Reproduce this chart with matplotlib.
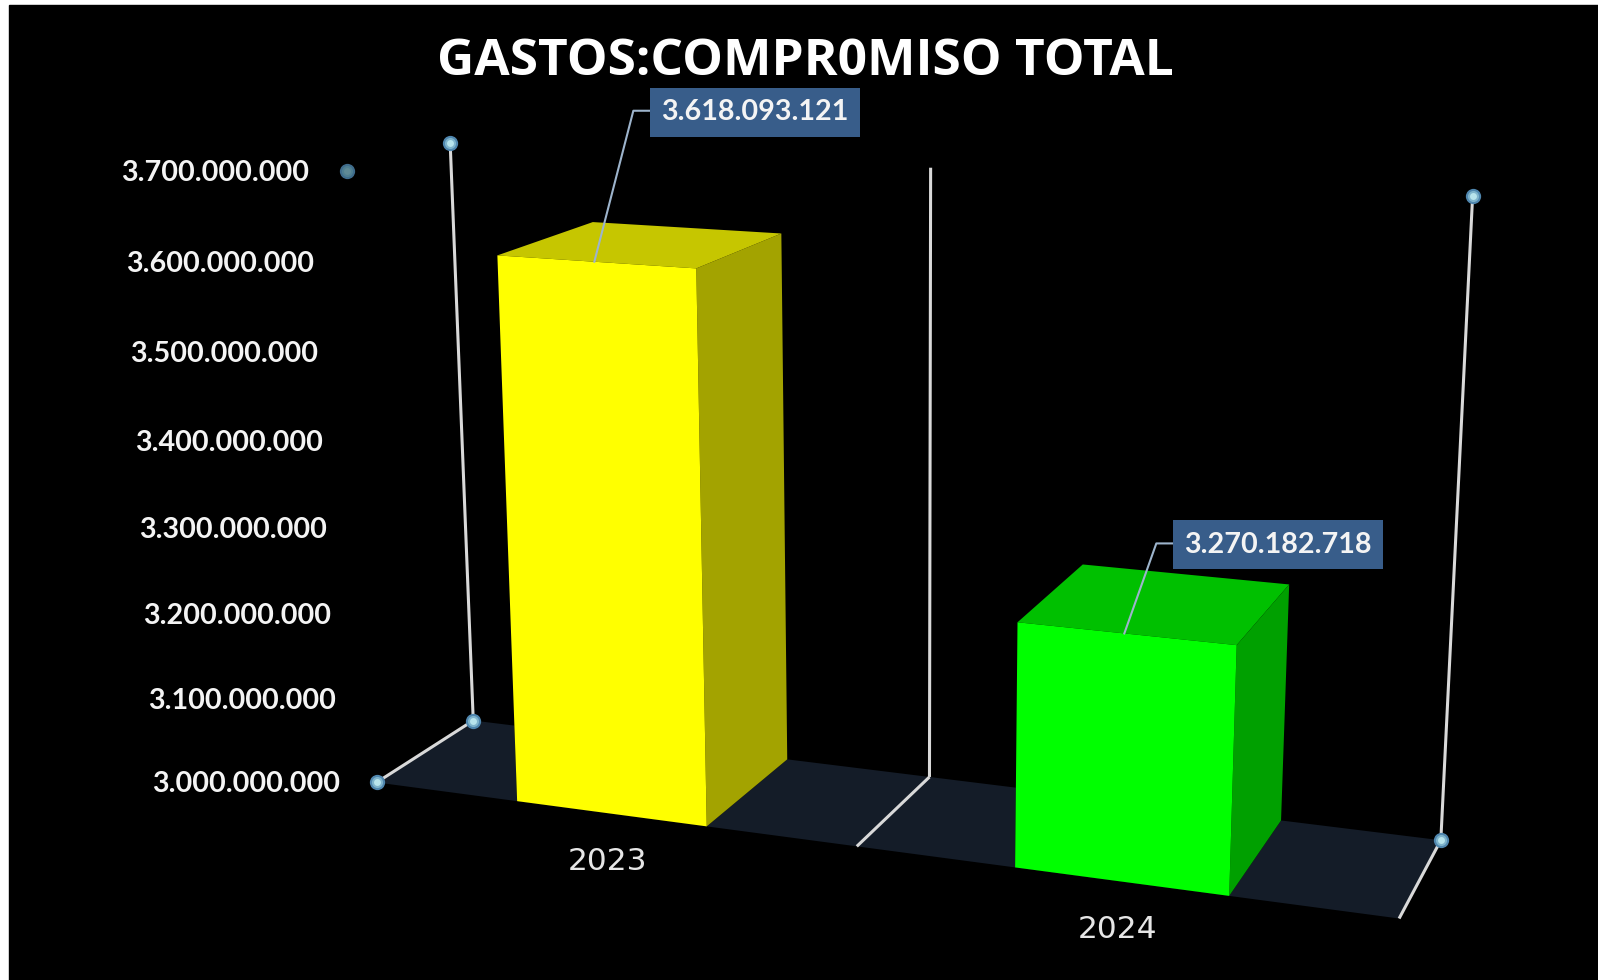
import numpy as np
import matplotlib
matplotlib.use("Agg")
import matplotlib.pyplot as plt
from matplotlib.lines import Line2D
from matplotlib.patches import Rectangle
from mpl_toolkits.mplot3d.art3d import Line3DCollection, Poly3DCollection

W, H = 1598, 980

title = "GASTOS:COMPR0MISO TOTAL"
years = ["2023", "2024"]
values = [3618093121, 3270182718]
ticks = [3000000000, 3100000000, 3200000000, 3300000000,
         3400000000, 3500000000, 3600000000, 3700000000]

front_colors = ["#FFFF00", "#00FF00"]
top_colors = ["#C6C600", "#00C000"]
side_colors = ["#A3A300", "#00A000"]

# camera: where the corners of the chart box land in the picture
# (category, depth, value in billions) -> pixel
box_points = [(0, 0, 3.0), (1, 0, 3.0), (2, 0, 3.0),
              (0, 1, 3.0), (1, 1, 3.0), (2, 1, 3.0),
              (0, 1, 3.7), (1, 1, 3.7), (2, 1, 3.7),
              (0, 0, 3.7)]
box_pixels = [(377, 782), (856, 847), (1399, 919),
              (473, 720), (930, 779), (1441, 838),
              (450, 143), (930, 168), (1473, 196),
              (347, 170)]


def fit_camera(points, pixels):
    rows = []
    for (x, y, z), (u, v) in zip(points, pixels):
        u = u / 1000
        v = (H - v) / 1000
        rows.append([x, y, z, 1, 0, 0, 0, 0, -u * x, -u * y, -u * z, -u])
        rows.append([0, 0, 0, 0, x, y, z, 1, -v * x, -v * y, -v * z, -v])
    p = np.linalg.svd(np.array(rows))[2][-1].reshape(3, 4)
    p[:2] *= 1000
    if p[2] @ [1, 0.5, 3.3, 1] < 0:
        p = -p
    return p / (p[2] @ [1, 0.5, 3.3, 1])


P = fit_camera(box_points, box_pixels)


def to_pixel(x, y, z):
    u, v, w = P @ [x, y, z, 1]
    return u / w, v / w


fig = plt.figure(figsize=(W / 100, H / 100), dpi=100, facecolor="white")
fig.add_artist(Rectangle((9 / W, 0), 1, 1 - 5 / H, transform=fig.transFigure,
                         color="black", zorder=-1))

ax = fig.add_axes([0, (H - W) / 2 / H, 1, W / H], projection="3d",
                  computed_zorder=False)
ax.set_axis_off()
ax.patch.set_visible(False)
ax.apply_aspect()

# pixel camera -> the axes' own view coordinates
M = np.vstack([P[0], P[1], P[2] - [0, 0, 0, 0.5], P[2]])
M[:2] = (ax.transData.inverted().get_matrix() @ P)[:2]
ax.get_proj = lambda: M

lo = ticks[0] / 1e9
hi = ticks[-1] / 1e9

floor = Poly3DCollection([[(0, 0, lo), (2, 0, lo), (2, 1, lo), (0, 1, lo)]],
                         facecolor="#141C28", edgecolor="none", zorder=1)
ax.add_collection3d(floor)

segments = []
for x in range(3):
    segments.append([(x, 0, lo), (x, 1, lo)])
    segments.append([(x, 1, lo), (x, 1, hi)])
ax.add_collection3d(Line3DCollection(segments, colors="#D9D9D9", linewidths=2.2, zorder=2))

for i, v in enumerate(values):
    faces = ["#000000", top_colors[i], front_colors[i], "#000000", "#000000", side_colors[i]]
    ax.bar3d(i + 0.305, 0, lo, 0.395, 1, v / 1e9 - lo, color=faces, shade=False,
             edgecolor="none", zorder=3 + i)

# little spheres on the box corners
for x, y, z, dim in [(0, 0, lo, False), (0, 1, lo, False), (0, 1, hi, False),
                     (2, 1, lo, False), (2, 1, hi, False), (0, 0, hi, True)]:
    px, py = to_pixel(x, y, z)
    sizes = [11, 8, 5]
    colors = ["#3F6C8C", "#4F7F92", "#5F8A96"] if dim else ["#4F86AE", "#7FB4CC", "#B8E4EC"]
    for ms, c in zip(sizes, colors):
        fig.add_artist(Line2D([px / W], [py / H], marker="o", ms=ms, color=c, mec="none",
                              transform=fig.transFigure))

label_font = dict(family="Lato", fontweight="bold", color="#F4F4F4", fontsize=20.7)

for t in ticks:
    px, py = to_pixel(0, 0, t / 1e9)
    fig.text((px - 37) / W, (py - 2) / H, f"{t:,}".replace(",", "."),
             ha="right", va="center", **label_font)

for i, year in enumerate(years):
    px, py = to_pixel(i + 0.5, 0, lo)
    fig.text((px - 2) / W, (py - 48) / H, year, ha="center", va="center",
             family="DejaVu Sans", color="#E6E6E6", fontsize=22.5)

# leader and box for each value
elbows = [(39, 151), (32, 90)]
for i, v in enumerate(values):
    px, py = to_pixel(i + 0.5, 0, v / 1e9)
    ex, ey = elbows[i]
    fig.add_artist(Line2D([px / W, (px + ex) / W, (px + ex + 16) / W],
                          [py / H, (py + ey) / H, (py + ey) / H],
                          color="#9DB4CC", lw=1.5, transform=fig.transFigure))
    fig.text((px + ex + 16 + 12) / W, (py + ey - 1.5) / H, f"{v:,}".replace(",", "."),
             ha="left", va="center",
             bbox=dict(boxstyle="square,pad=0.4", fc="#385D8A", ec="none"),
             **label_font)

fig.text(805 / W, 1 - 62 / H, title, ha="center", va="center", family="Open Sans",
         fontweight="bold", color="white", fontsize=37)

fig.savefig("out.png", dpi=100)
